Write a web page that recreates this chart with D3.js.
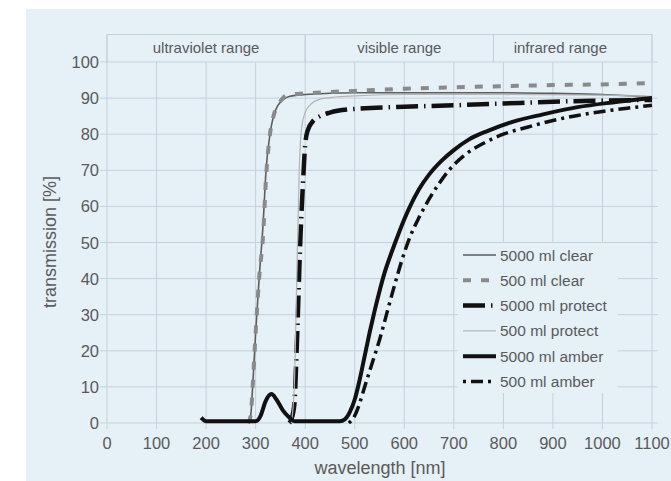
<!DOCTYPE html>
<html lang="en">
  <meta charset="utf-8">
  <style>
    body{
        margin: 0;
        background: #fff;
    }
    text{
        font-family: "Liberation Sans", Arial, sans-serif;
        fill: #5a5a5a;
    }
  </style>
  <body>
    <svg width="671" height="481"></svg>

    <script src="https://d3js.org/d3.v7.min.js"></script>
    <script>
      let xTicks = [0,100,200,300,400,500,600,700,800,900,1000,1100]
      let yTicks = [0,10,20,30,40,50,60,70,80,90,100]
      let bandNames = ['ultraviolet range','visible range','infrared range']
      let bandEdges = [0,400,780,1100]
      let bandLabelAt = [200,590,915]

      let seriesNames = ['5000 ml clear','500 ml clear','5000 ml protect','500 ml protect','5000 ml amber','500 ml amber']

      let clear5000Wl = [285,290,294,300,307,315,321,329,336,345,355,369,400,500,600,700,800,900,1000,1100]
      let clear5000T  = [0,2,10,25,40,55,70,80,85,88,89.5,90.5,91,91.5,91.5,91.5,91.5,91.3,91,90.3]

      let clear500Wl = [285,290,294,300,307,315,321,329,336,345,355,369,400,500,600,700,800,900,1000,1100]
      let clear500T  = [0,2,10,25,40,52,68,80,85,88,90,91,91.3,92,92.6,93,93.3,93.6,93.8,94.2]

      let protect5000Wl = [368,372,378,384,390,395,400,405,415,430,450,500,600,700,800,900,1000,1100]
      let protect5000T  = [0,1,5,25,50,65,77,81,83.5,85,86,87,87.6,88,88.5,89,89.3,89.5]

      let protect500Wl = [372,378,383,388,393,400,413,430,460,500,600,800,1000,1100]
      let protect500T  = [0,10,40,70,82,86,88.5,89.7,90.3,90.6,91,91,90.8,90.5]

      let amber5000Wl = [190,200,300,310,320,332,342,355,368,378,470,480,490,500,510,520,530,540,550,560,575,590,610,630,650,675,700,730,770,820,880,950,1020,1100]
      let amber5000T  = [1.5,0.5,0.5,2,6,8,6.5,3.5,1.5,0.5,0.5,1,3,6.5,12,18.5,25,31,36.5,41.5,47.5,53,59.5,64.8,68.8,72.6,75.6,78.5,81,83.5,85.5,87.5,88.8,90]

      let amber500Wl = [488,500,510,520,535,550,565,580,595,610,630,650,670,690,720,760,800,850,900,950,1000,1050,1100]
      let amber500T  = [0,2,5.5,10,16.5,23,30.5,38,45,51,57,62,66.3,70,74,77.5,80,82,83.8,85.2,86.3,87.2,88]

      let seriesData = [
        [clear5000Wl, clear5000T],
        [clear500Wl, clear500T],
        [protect5000Wl, protect5000T],
        [protect500Wl, protect500T],
        [amber5000Wl, amber5000T],
        [amber500Wl, amber500T]
      ].map(([wl, t]) => wl.map((w, i) => ({wl: w, t: t[i]})))

      let seriesStyle = [
        {color: '#5c5c5c', width: 1.6, dash: null},
        {color: '#8a8a8a', width: 4, dash: '8,10'},
        {color: '#111', width: 4.5, dash: '22,6,1.5,6'},
        {color: '#b4b4b4', width: 1.2, dash: null},
        {color: '#111', width: 4, dash: null},
        {color: '#111', width: 3.5, dash: '3,5,12,5'}
      ]

      let svg = d3.select('svg')
      let gridColor = '#c5d0da'

      svg.append('rect')
        .attr('x', 26).attr('y', 9)
        .attr('width', 645).attr('height', 472)
        .attr('fill', '#e6f0f7')

      let x = d3.scaleLinear().domain([0,1100]).range([107,652])
      let y = d3.scaleLinear().domain([0,100]).range([423,62])
      let headTop = y(107.6)

      let grid = svg.append('g').attr('stroke', gridColor).attr('stroke-width', 1)

      grid.selectAll('.h').data(yTicks).enter()
        .append('line')
        .attr('x1', 100).attr('x2', 658)
        .attr('y1', d => y(d)).attr('y2', d => y(d))

      grid.selectAll('.v').data(xTicks).enter()
        .append('line')
        .attr('x1', d => x(d)).attr('x2', d => x(d))
        .attr('y1', d => bandEdges.includes(d) ? headTop : y(100))
        .attr('y2', y(0) + 6)

      grid.selectAll('.b').data(bandEdges).enter()
        .append('line')
        .attr('x1', d => x(d)).attr('x2', d => x(d))
        .attr('y1', headTop).attr('y2', y(100))

      grid.append('line')
        .attr('x1', x(0)).attr('x2', x(1100))
        .attr('y1', headTop).attr('y2', headTop)

      svg.append('g').selectAll('text')
        .data(bandNames).enter()
        .append('text')
        .attr('x', (d, i) => x(bandLabelAt[i]))
        .attr('y', 53)
        .attr('text-anchor', 'middle')
        .attr('font-size', 15)
        .text(d => d)

      svg.append('g').selectAll('text')
        .data(yTicks).enter()
        .append('text')
        .attr('x', 99)
        .attr('y', d => y(d) + 6)
        .attr('text-anchor', 'end')
        .attr('font-size', 16.5)
        .text(d => d)

      svg.append('g').selectAll('text')
        .data(xTicks).enter()
        .append('text')
        .attr('x', d => x(d))
        .attr('y', 449)
        .attr('text-anchor', 'middle')
        .attr('font-size', 16.5)
        .text(d => d)

      svg.append('text')
        .attr('transform', 'translate(56,242) rotate(-90)')
        .attr('text-anchor', 'middle')
        .attr('font-size', 18)
        .text('transmission [%]')

      svg.append('text')
        .attr('x', 380)
        .attr('y', 474)
        .attr('text-anchor', 'middle')
        .attr('font-size', 18)
        .text('wavelength [nm]')

      let line = d3.line()
        .x(d => x(d.wl))
        .y(d => y(d.t))
        .curve(d3.curveMonotoneX)

      svg.append('g')
        .selectAll('path')
        .data(seriesData).enter()
        .append('path')
        .attr('d', line)
        .attr('fill', 'none')
        .attr('stroke', (d, i) => seriesStyle[i].color)
        .attr('stroke-width', (d, i) => seriesStyle[i].width)
        .attr('stroke-dasharray', (d, i) => seriesStyle[i].dash)

      let legend = svg.append('g')
      legend.append('rect')
        .attr('x', 458).attr('y', 243)
        .attr('width', 160).attr('height', 150)
        .attr('fill', '#e6f0f7')

      let rows = legend.selectAll('g')
        .data(seriesNames).enter()
        .append('g')
        .attr('transform', (d, i) => `translate(463,${255 + i * 25.3})`)

      rows.append('line')
        .attr('x1', 0).attr('x2', 33)
        .attr('stroke', (d, i) => seriesStyle[i].color)
        .attr('stroke-width', (d, i) => seriesStyle[i].width)
        .attr('stroke-dasharray', (d, i) => seriesStyle[i].dash)

      rows.append('text')
        .attr('x', 37)
        .attr('y', 5.5)
        .attr('font-size', 15.5)
        .attr('fill', '#444')
        .text(d => d)
    </script>
</body>
</html>
